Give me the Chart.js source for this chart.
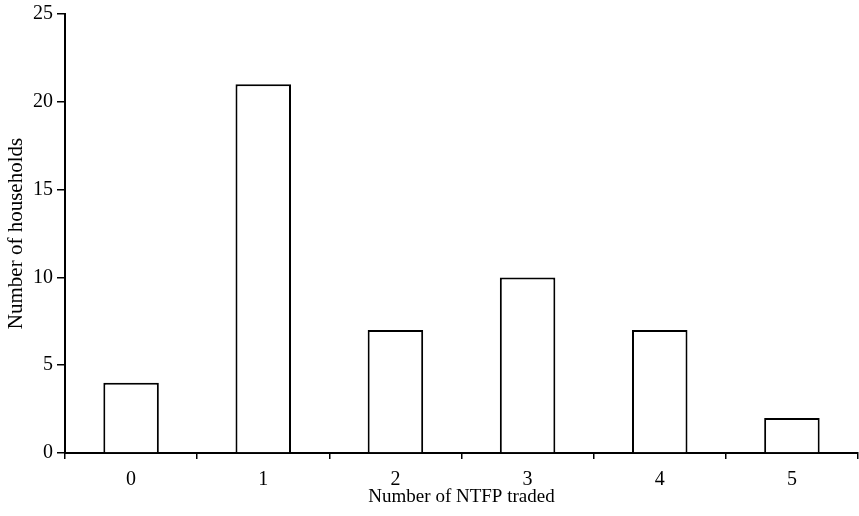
<!DOCTYPE html>
<html>
<head>
<meta charset="utf-8">
<script src="https://cdn.jsdelivr.net/npm/chart.js@4/dist/chart.umd.min.js"></script>
<style>
  html, body { margin: 0; padding: 0; background: #fff; }
  #wrap { width: 859px; height: 516px; }
</style>
</head>
<body>
<div id="wrap"><canvas id="c" width="859" height="516"></canvas></div>
<script>
// data
var categories = ['0', '1', '2', '3', '4', '5'];
var households = [4, 21, 7, 10, 7, 2];
var yTicks = [0, 5, 10, 15, 20, 25];

var serif = 'Liberation Serif, Times New Roman, serif';

new Chart(document.getElementById('c').getContext('2d'), {
    type: 'bar',
    data: {
        labels: categories,
        datasets: [{
            data: households,
            backgroundColor: '#ffffff',
            borderColor: '#000000',
            borderWidth: 2,
            barPercentage: 0.42,
            categoryPercentage: 1.0
        }]
    },
    options: {
        responsive: false,
        devicePixelRatio: 1,
        animation: false,
        layout: { padding: { top: 12, right: 1, bottom: 0, left: 0 } },
        plugins: { legend: { display: false }, tooltip: { enabled: false } },
        scales: {
            x: {
                offset: true,
                grid: { offset: true, drawOnChartArea: false, color: '#000', lineWidth: 1.5, tickLength: 6 },
                border: { color: '#000', width: 2 },
                ticks: { color: '#000', font: { family: serif, size: 20 }, padding: 9, maxRotation: 0 },
                title: { display: true, text: 'Number of NTFP traded', color: '#000',
                         font: { family: serif, size: 19 }, padding: { top: 0, bottom: 8 } },
                afterFit: function(scale) { scale.height = 63; }
            },
            y: {
                min: 0,
                max: 25,
                afterBuildTicks: function(scale) {
                    scale.ticks = yTicks.map(function(v) { return { value: v }; });
                },
                grid: { drawOnChartArea: false, color: '#000', lineWidth: 1.5, tickLength: 8 },
                border: { color: '#000', width: 2 },
                ticks: { color: '#000', font: { family: serif, size: 20, lineHeight: 1 }, padding: 4 },
                title: { display: true, text: 'Number of households', color: '#000',
                         font: { family: serif, size: 21 }, padding: { top: 4, bottom: 0 } },
                afterFit: function(scale) { scale.width = 65; }
            }
        }
    }
});
</script>
</body>
</html>
